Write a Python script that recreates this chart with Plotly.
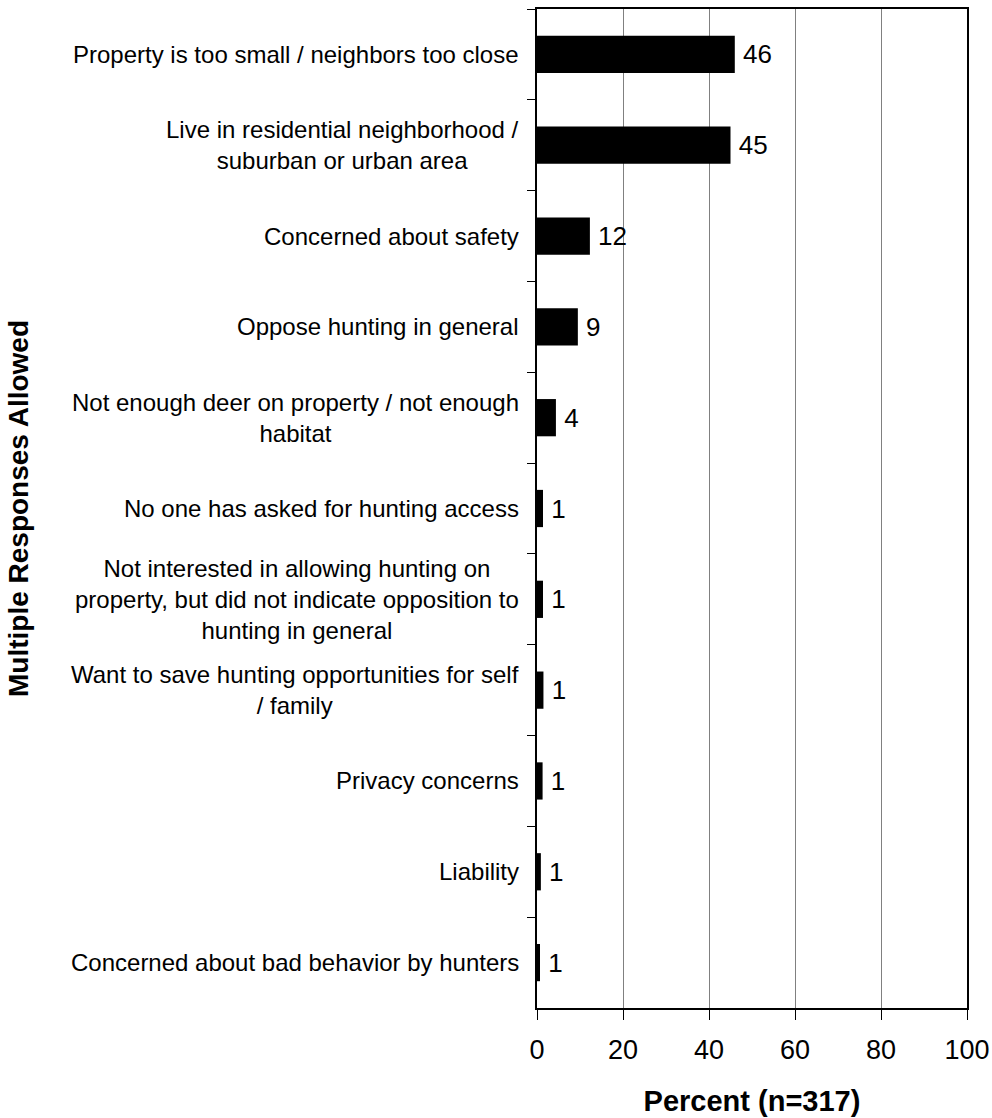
import plotly.graph_objects as go

categories = [
    "Property is too small / neighbors too close",
    "Live in residential neighborhood /<br>suburban or urban area",
    "Concerned about safety",
    "Oppose hunting in general",
    "Not enough deer on property / not enough<br>habitat",
    "No one has asked for hunting access",
    "Not interested in allowing hunting on<br>property, but did not indicate opposition to<br>hunting in general",
    "Want to save hunting opportunities for self<br>/ family",
    "Privacy concerns",
    "Liability",
    "Concerned about bad behavior by hunters",
]
values = [46, 45, 12.3, 9.5, 4.4, 1.4, 1.4, 1.5, 1.3, 0.9, 0.7]
value_labels = ["46", "45", "12", "9", "4", "1", "1", "1", "1", "1", "1"]
x_ticks = [0, 20, 40, 60, 80, 100]

FONT = "Arial, Liberation Sans, sans-serif"

fig = go.Figure()
fig.add_trace(go.Bar(
    x=values,
    y=categories,
    orientation="h",
    marker=dict(color="black", line=dict(width=0)),
    text=value_labels,
    texttemplate="\u2009%{text}",
    textposition="outside",
    textfont=dict(family=FONT, size=26, color="black"),
    constraintext="none",
    cliponaxis=False,
    hoverinfo="skip",
))

for cat in categories:
    fig.add_annotation(
        x=0, xref="paper", y=cat, yref="y",
        text=cat, showarrow=False,
        xanchor="right", yanchor="middle", align="center",
        xshift=-16,
        font=dict(family=FONT, size=24, color="black"),
    )

fig.update_layout(
    width=992, height=1118,
    margin=dict(l=537, r=25, t=9, b=110),
    plot_bgcolor="white", paper_bgcolor="white",
    showlegend=False,
    bargap=0.59,
    font=dict(family=FONT, color="black"),
)

fig.update_xaxes(
    range=[0, 100],
    tickvals=x_ticks,
    ticktext=[str(v) for v in x_ticks],
    ticks="outside", ticklen=10, tickwidth=1, tickcolor="black",
    tickfont=dict(family=FONT, size=27, color="black"),
    ticklabelstandoff=7,
    showgrid=True, gridcolor="#808080", gridwidth=1,
    showline=True, linecolor="black", linewidth=2, mirror=True,
    zeroline=False,
    title=dict(text="<b>Percent (n=317)</b>", font=dict(family=FONT, size=29, color="black"), standoff=26),
    automargin=False,
)

fig.update_yaxes(
    categoryorder="array", categoryarray=categories,
    autorange="reversed",
    showticklabels=False,
    ticks="outside", tickson="boundaries", ticklen=8, tickwidth=1, tickcolor="black",
    showgrid=False,
    showline=True, linecolor="black", linewidth=2, mirror=True,
    title=dict(text="<b>Multiple Responses Allowed</b>", font=dict(family=FONT, size=28, color="black"), standoff=498),
    automargin=False,
)

fig.write_html(
    "out.html",
    config={"displayModeBar": False},
    post_script="document.body.style.margin='0';document.body.style.overflow='hidden';",
)
